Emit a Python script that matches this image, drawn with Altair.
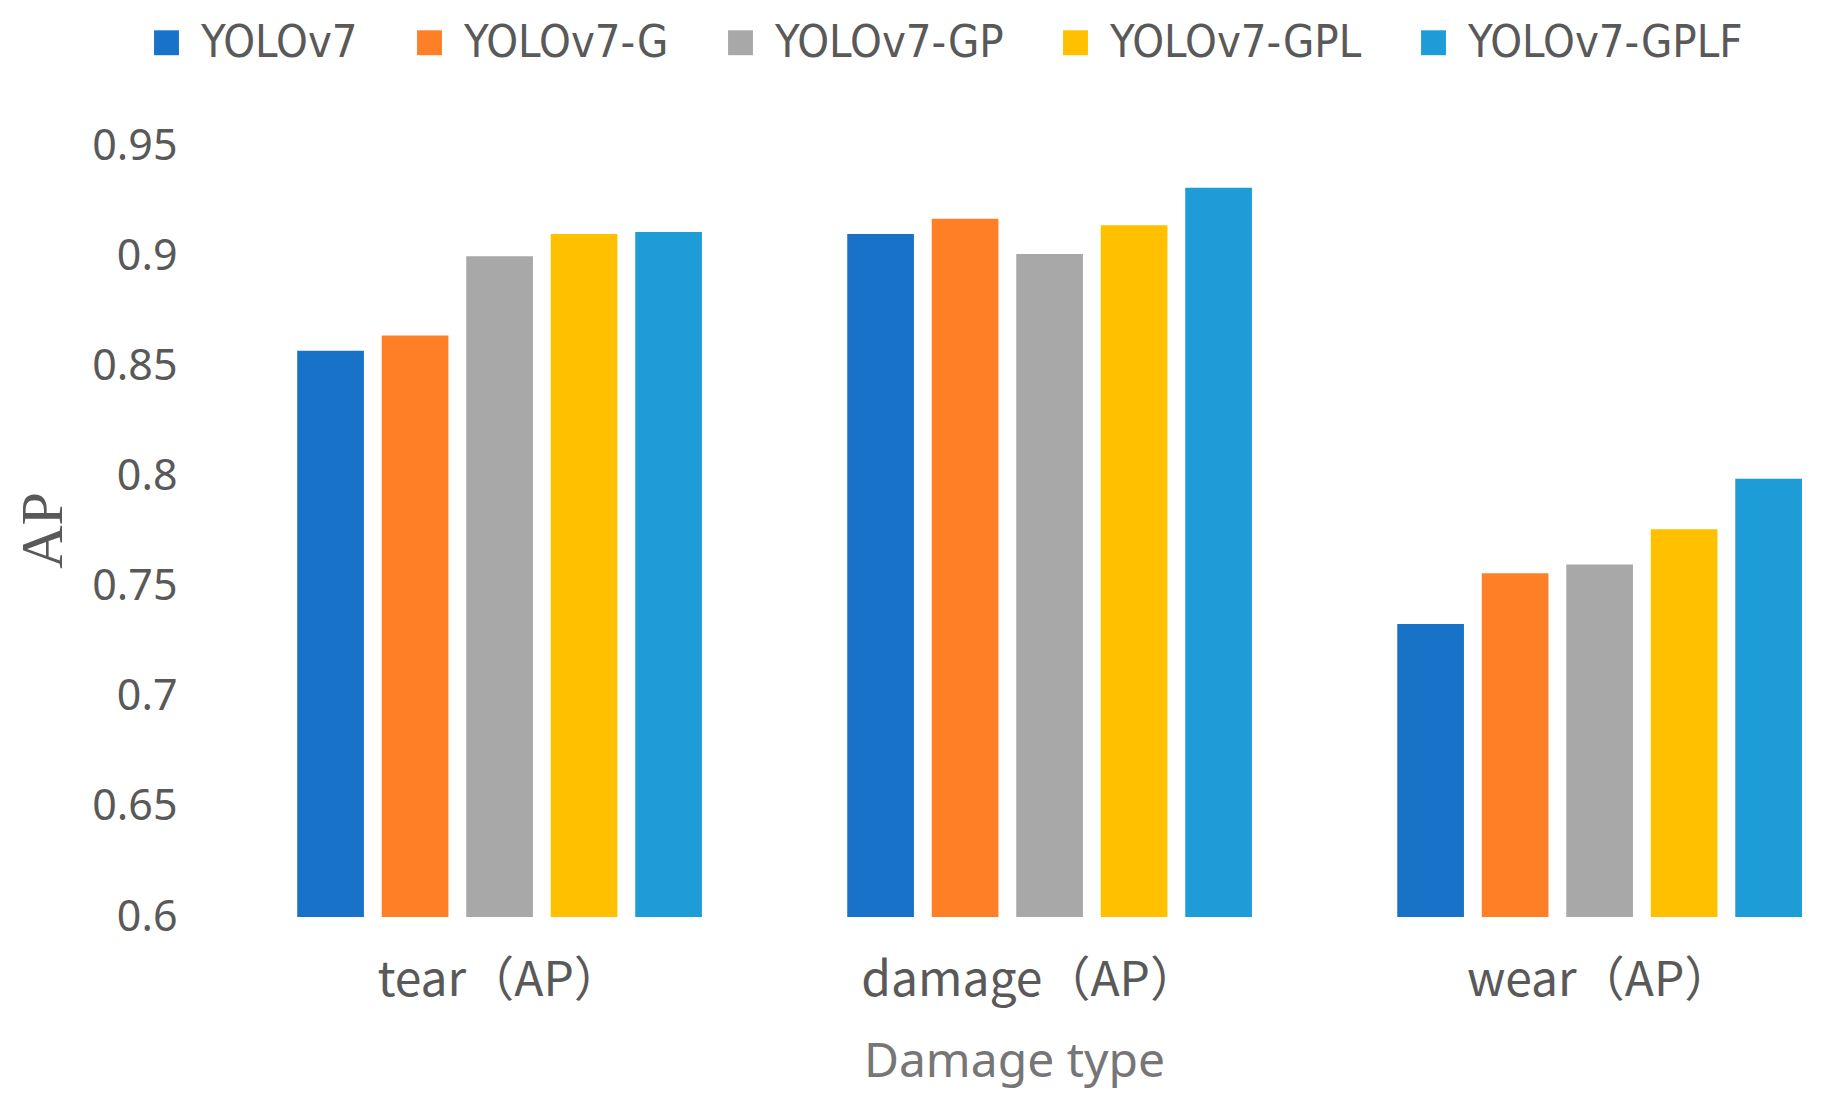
import altair as alt
import pandas as pd

categories = ["tear（AP）", "damage（AP）", "wear（AP）"]
models = ["YOLOv7", "YOLOv7-G", "YOLOv7-GP", "YOLOv7-GPL", "YOLOv7-GPLF"]
colors = ["#1872C8", "#FF7F27", "#A8A8A8", "#FFC000", "#1E9CD8"]

yolov7 = [0.857, 0.910, 0.733]
yolov7_g = [0.864, 0.917, 0.756]
yolov7_gp = [0.900, 0.901, 0.760]
yolov7_gpl = [0.910, 0.914, 0.776]
yolov7_gplf = [0.911, 0.931, 0.799]

y_ticks = [0.6, 0.65, 0.7, 0.75, 0.8, 0.85, 0.9, 0.95]

series = [yolov7, yolov7_g, yolov7_gp, yolov7_gpl, yolov7_gplf]
rows = []
for m, vals in zip(models, series):
    for c, v in zip(categories, vals):
        rows.append({"category": c, "model": m, "AP": v})
df = pd.DataFrame(rows)

chart = alt.Chart(df).mark_bar().encode(
    x=alt.X(
        "category:N",
        sort=categories,
        scale=alt.Scale(paddingInner=0.2642, paddingOuter=0.1166, align=0.836),
        axis=alt.Axis(
            title="Damage type",
            labelAngle=0,
            labelFont="Noto Sans CJK SC",
            labelFontSize=48,
            labelColor="#595959",
            labelPadding=40,
            labelLimit=800,
            labelOffset={
                "condition": {"test": "datum.value === 'damage（AP）'", "value": -20},
                "value": 0,
            },
            domain=False,
            ticks=False,
            tickSize=0,
            titleFont="Noto Sans",
            titleFontSize=48,
            titleFontWeight="normal",
            titleColor="#767676",
            titleX=824,
            titleY=159,
            titleAlign="center",
            titleBaseline="alphabetic",
        ),
    ),
    xOffset=alt.XOffset(
        "model:N",
        sort=models,
        scale=alt.Scale(paddingInner=0.2107, paddingOuter=0),
    ),
    y=alt.Y(
        "AP:Q",
        scale=alt.Scale(domain=[0.6, 0.95], zero=False, nice=False),
        axis=alt.Axis(
            title="AP",
            values=y_ticks,
            format=".2~f",
            grid=False,
            domain=False,
            ticks=False,
            tickSize=0,
            labelFont="Noto Sans",
            labelFontSize=43,
            labelColor="#595959",
            labelPadding=13,
            titleFont="Liberation Serif",
            titleFontSize=60,
            titleFontWeight="normal",
            titleColor="#595959",
            titleAngle=270,
            titleX=-129,
            titleY=384,
            titleAlign="center",
            titleBaseline="alphabetic",
        ),
    ),
    y2=alt.datum(0.6),
    color=alt.Color(
        "model:N",
        sort=models,
        scale=alt.Scale(domain=models, range=colors),
        legend=alt.Legend(
            title=None,
            orient="none",
            legendX=-46,
            legendY=-126,
            direction="horizontal",
            columns=5,
            columnPadding=49,
            padding=0,
            symbolType="square",
            symbolSize=620,
            symbolStrokeWidth=0,
            symbolOpacity=1,
            labelOffset=12,
            labelFont="Liberation Sans Narrow, DejaVu Sans Condensed, Noto Sans",
            labelFontSize=45,
            labelColor="#595959",
            labelLimit=600,
        ),
    ),
).properties(
    width=1633,
    height=771,
    autosize=alt.AutoSizeParams(type="none"),
    padding={"left": 182, "top": 138, "right": 0, "bottom": 179},
    background="white",
).configure_view(stroke=None)

chart.save("out.html", embed_options={"renderer": "svg", "actions": False})
